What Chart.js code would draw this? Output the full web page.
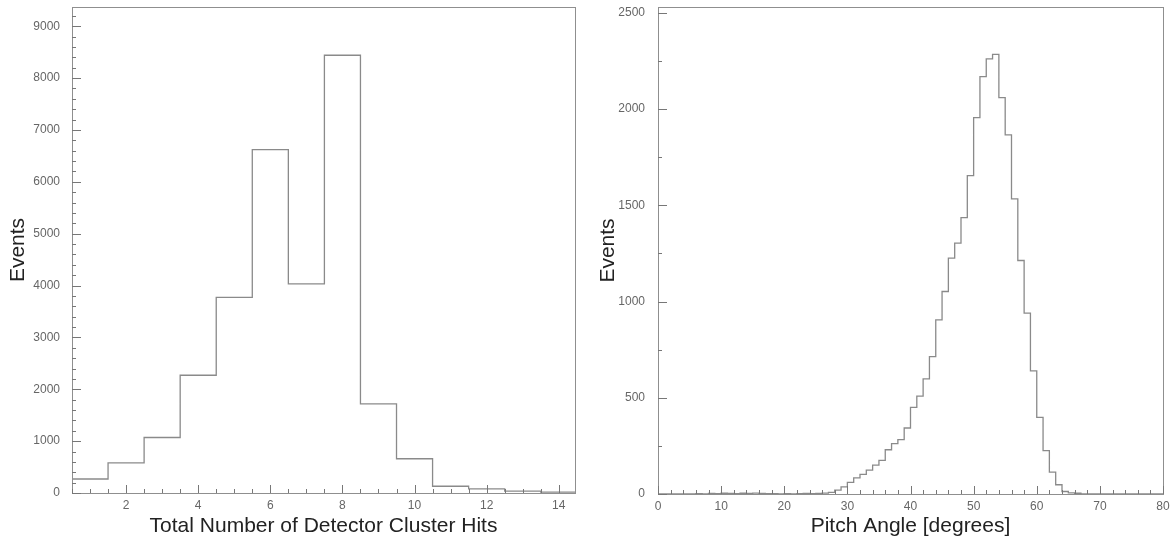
<!DOCTYPE html>
<html>
<head>
<meta charset="utf-8">
<script src="https://cdn.jsdelivr.net/npm/chart.js@4.4.0/dist/chart.umd.min.js"></script>
<style>
body{margin:0;background:#fff;}
#wrapLeft{position:absolute;left:0;top:0;width:590px;height:543px;}
#wrapRight{position:absolute;left:590px;top:0;width:584px;height:543px;}
</style>
</head>
<body>
<div id="wrapLeft"><canvas id="hitsChart" width="590" height="543"></canvas></div>
<div id="wrapRight"><canvas id="pitchChart" width="584" height="543"></canvas></div>
<script>
//______________________________DATA_______________________________
// left: number of detector cluster hits (bin centres) and events per bin
var hitsBins=[1,2,3,4,5,6,7,8,9,10,11,12,13,14];
var hitsEvents=[270,580,1070,2270,3770,6620,4030,8440,1720,660,130,80,35,15];
var hitsXTicks=[2,4,6,8,10,12,14];
var hitsYTicks=[0,1000,2000,3000,4000,5000,6000,7000,8000,9000];

// right: pitch angle, 1 degree bins starting at 0
var pitchBinStart=0;
var pitchBinWidth=1;
var pitchEvents=[
  0,0,0,1,0,1,2,1,3,2,4,3,2,4,3,5,3,2,2,1,
  2,1,2,3,2,3,5,8,20,37,60,84,102,124,150,175,230,262,282,343,
  450,508,598,714,905,1052,1225,1303,1436,1654,1955,2168,2260,2284,2059,1866,1533,1213,940,640,
  398,225,114,48,13,6,4,1,0,0,0,0,0,0,0,0,0,0,0,0
];
var pitchXTicks=[0,10,20,30,40,50,60,70,80];
var pitchYTicks=[0,500,1000,1500,2000,2500];

var lineColor="#8a8a8a";
var frameColor="#8f8f8f";
var labelColor="#666";
var titleColor="#222";

//______________________________HISTOGRAM OUTLINE POINTS_______________________________
// step outline: each point holds its value until the next left edge
function outlineFromCentres(centres,values){
  var half=(centres[1]-centres[0])/2;
  var pts=[{x:centres[0]-half,y:0}];
  for(var i=0;i<centres.length;i++){
    pts.push({x:centres[i]-half,y:values[i]});
  }
  pts.push({x:centres[centres.length-1]+half,y:0});
  return pts;
}
function outlineFromEdges(start,width,values){
  var pts=[{x:start,y:0}];
  for(var i=0;i<values.length;i++){
    pts.push({x:start+i*width,y:values[i]});
  }
  pts.push({x:start+values.length*width,y:0});
  return pts;
}

//______________________________FRAME + INWARD TICKS_______________________________
function tickRun(ctx,scale,step,len,area,horizontal){
  var first=Math.ceil(scale.min/step-1e-9);
  var last=Math.floor(scale.max/step+1e-9);
  for(var i=first;i<=last;i++){
    var p=Math.round(scale.getPixelForValue(i*step))+0.5;
    if(horizontal){
      ctx.moveTo(p,area.bottom);
      ctx.lineTo(p,area.bottom-len);
    }else{
      ctx.moveTo(area.left,p);
      ctx.lineTo(area.left+len,p);
    }
  }
}
var frameTicks={
  id:"frameTicks",
  afterDraw:function(chart,args,opts){
    var ctx=chart.ctx;
    var a=chart.chartArea;
    ctx.save();
    ctx.strokeStyle=frameColor;
    ctx.lineWidth=1;
    ctx.strokeRect(Math.round(a.left)+0.5,Math.round(a.top)+0.5,Math.round(a.right-a.left),Math.round(a.bottom-a.top));
    ctx.beginPath();
    tickRun(ctx,chart.scales.x,opts.xMinor,4,a,true);
    tickRun(ctx,chart.scales.x,opts.xMajor,8,a,true);
    tickRun(ctx,chart.scales.y,opts.yMinor,4,a,false);
    tickRun(ctx,chart.scales.y,opts.yMajor,9,a,false);
    ctx.strokeStyle="#777";
    ctx.stroke();
    ctx.restore();
  }
};

// no extra margins from the tick labels, the layout padding places the frame
function noPad(s){
  s.paddingTop=0;s.paddingBottom=0;s.paddingLeft=0;s.paddingRight=0;
}

//______________________________CHART BUILDER_______________________________
function makeHist(canvasID,points,o){
  return new Chart(document.getElementById(canvasID),{
    type:"line",
    data:{
      datasets:[{
        data:points,
        stepped:true,
        borderColor:lineColor,
        borderWidth:1.3,
        pointRadius:0,
        fill:false
      }]
    },
    options:{
      responsive:false,
      animation:false,
      layout:{padding:{top:7,right:o.padRight,left:0,bottom:0}},
      plugins:{
        legend:{display:false},
        tooltip:{enabled:false},
        frameTicks:o.ticks
      },
      scales:{
        x:{
          type:"linear",
          min:o.xMin,
          max:o.xMax,
          afterFit:function(s){s.height=o.xHeight;noPad(s);},
          afterBuildTicks:function(s){s.ticks=o.xTicks.map(function(v){return {value:v};});},
          grid:{display:false,drawTicks:false},
          border:{display:false},
          ticks:{
            padding:5,
            maxRotation:0,
            autoSkip:false,
            color:labelColor,
            font:{family:"Liberation Sans",size:o.tickSize},
            callback:function(v){return String(v);}
          },
          title:{
            display:true,
            text:o.xTitle,
            color:titleColor,
            font:{family:"Liberation Sans",size:21},
            padding:{top:2,bottom:4}
          }
        },
        y:{
          min:0,
          max:o.yMax,
          afterFit:function(s){s.width=o.yWidth;noPad(s);},
          afterBuildTicks:function(s){s.ticks=o.yTicks.map(function(v){return {value:v};});},
          grid:{display:false,drawTicks:false},
          border:{display:false},
          ticks:{
            padding:o.yPad,
            autoSkip:false,
            color:labelColor,
            font:{family:"Liberation Sans",size:o.tickSize},
            callback:function(v){return String(v);}
          },
          title:{
            display:true,
            text:"Events",
            color:titleColor,
            font:{family:"Liberation Sans",size:21},
            padding:{top:6,bottom:2}
          }
        }
      }
    },
    plugins:[frameTicks]
  });
}

makeHist("hitsChart",outlineFromCentres(hitsBins,hitsEvents),{
  xMin:0.5,xMax:14.45,xTicks:hitsXTicks,xTitle:"Total Number of Detector Cluster Hits",
  yMax:9370,yTicks:hitsYTicks,yWidth:72,yPad:12,xHeight:50,padRight:15,tickSize:12,
  ticks:{xMinor:0.5,xMajor:2,yMinor:200,yMajor:1000}
});

makeHist("pitchChart",outlineFromEdges(pitchBinStart,pitchBinWidth,pitchEvents),{
  xMin:0,xMax:80,xTicks:pitchXTicks,xTitle:"Pitch Angle [degrees]",
  yMax:2530,yTicks:pitchYTicks,yWidth:68,yPad:13,xHeight:49,padRight:11,tickSize:12,
  ticks:{xMinor:2,xMajor:10,yMinor:250,yMajor:500}
});
</script>
</body>
</html>
